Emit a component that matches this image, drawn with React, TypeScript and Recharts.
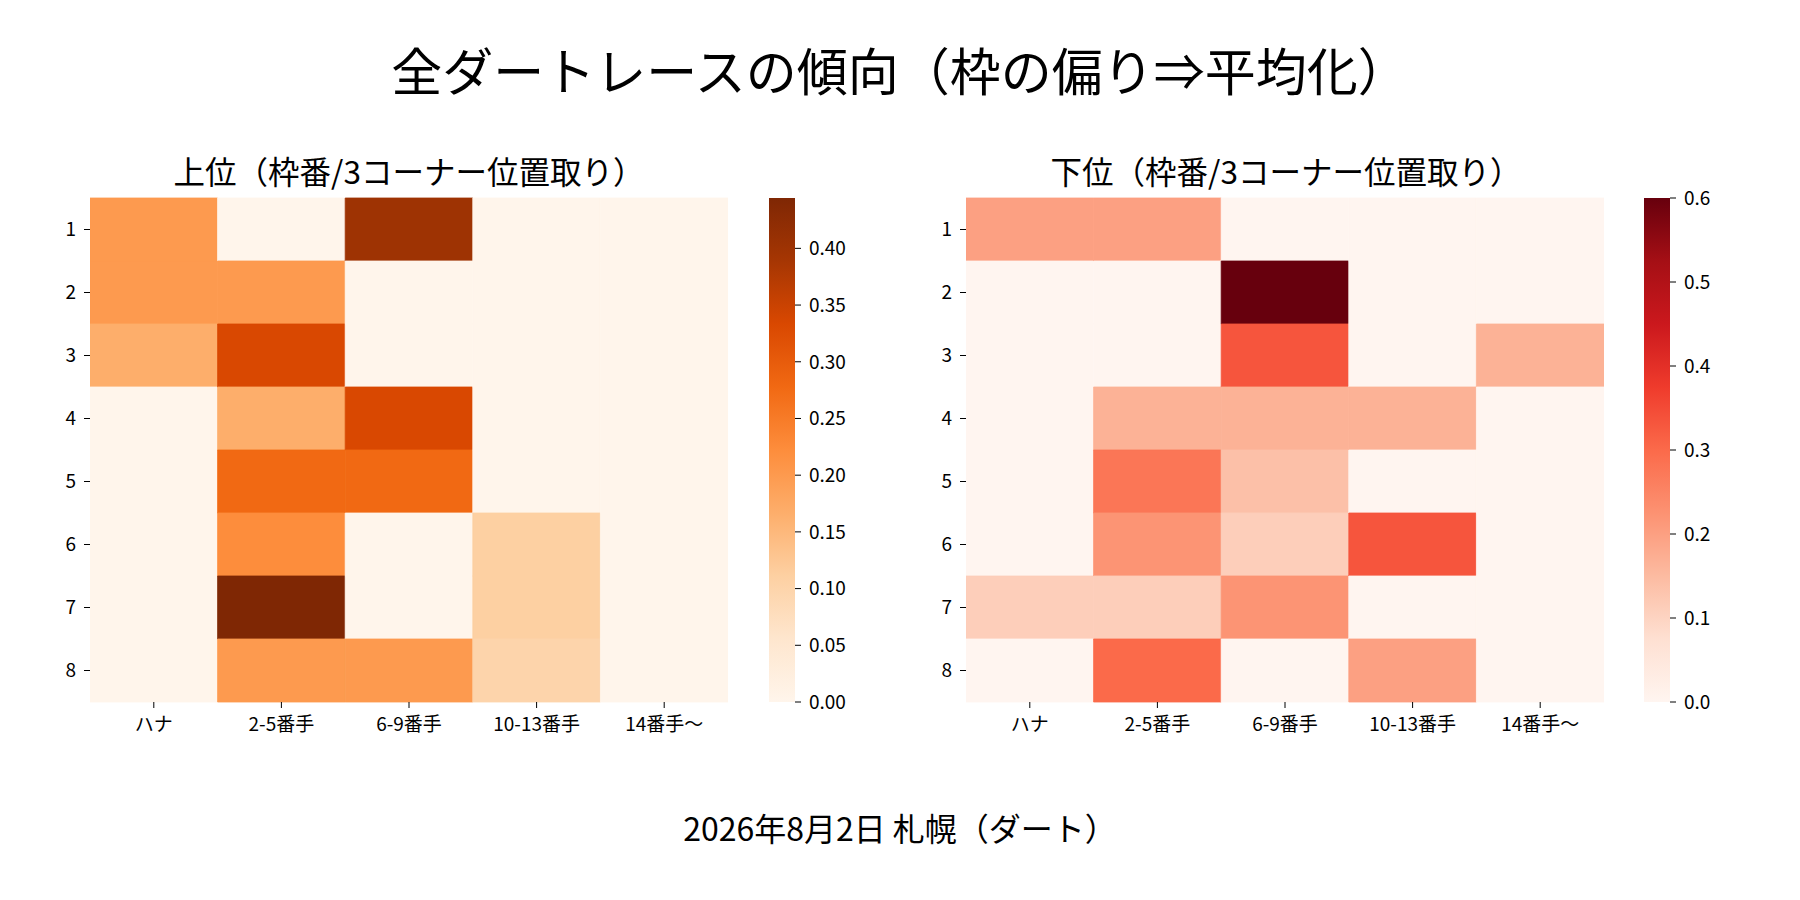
import React from 'react';
import { BarChart, Bar, XAxis, YAxis, Cell } from 'recharts';

const FONT = '"Noto Sans CJK JP", "Noto Sans", sans-serif';

// ---- data ----
const mainTitle = '全ダートレースの傾向（枠の偏り⇒平均化）';
const upperTitle = '上位（枠番/3コーナー位置取り）';
const lowerTitle = '下位（枠番/3コーナー位置取り）';
const footerText = '2026年8月2日 札幌（ダート）';

const rowLabels = ['1', '2', '3', '4', '5', '6', '7', '8'];
const colLabels = ['ハナ', '2-5番手', '6-9番手', '10-13番手', '14番手～'];

const upperValues = [
  [0.2, 0, 0.4, 0, 0],
  [0.2, 0.2, 0, 0, 0],
  [0.167, 0.333, 0, 0, 0],
  [0, 0.167, 0.333, 0, 0],
  [0, 0.278, 0.278, 0, 0],
  [0, 0.222, 0, 0.111, 0],
  [0, 0.4444, 0, 0.111, 0],
  [0, 0.2, 0.2, 0.1, 0],
];
const upperMax = 0.4444;
const upperTicks = [0, 0.05, 0.1, 0.15, 0.2, 0.25, 0.3, 0.35, 0.4];

const lowerValues = [
  [0.2, 0.2, 0, 0, 0],
  [0, 0, 0.6, 0, 0],
  [0, 0, 0.333, 0, 0.167],
  [0, 0.167, 0.167, 0.167, 0],
  [0, 0.278, 0.14, 0, 0],
  [0, 0.222, 0.111, 0.333, 0],
  [0.111, 0.111, 0.222, 0, 0],
  [0, 0.3, 0, 0.2, 0],
];
const lowerMax = 0.6;
const lowerTicks = [0, 0.1, 0.2, 0.3, 0.4, 0.5, 0.6];

const ORANGES = ['#fff5eb', '#fee6ce', '#fdd0a2', '#fdae6b', '#fd8d3c', '#f16913', '#d94801', '#a63603', '#7f2704'];
const REDS = ['#fff5f0', '#fee0d2', '#fcbba1', '#fc9272', '#fb6a4a', '#ef3b2c', '#cb181d', '#a50f15', '#67000d'];

// ---- helpers ----
function hexToRgb(h: string) {
  return [parseInt(h.slice(1, 3), 16), parseInt(h.slice(3, 5), 16), parseInt(h.slice(5, 7), 16)];
}
function colorAt(cmap: string[], t: number) {
  const tt = Math.max(0, Math.min(1, t));
  const pos = tt * (cmap.length - 1);
  const i = Math.min(cmap.length - 2, Math.floor(pos));
  const f = pos - i;
  const a = hexToRgb(cmap[i]);
  const b = hexToRgb(cmap[i + 1]);
  const c = a.map((v, k) => Math.round(v + (b[k] - v) * f));
  return `rgb(${c[0]},${c[1]},${c[2]})`;
}

const tickStyle = { fill: '#000', fontSize: 19, fontFamily: FONT };

function Heatmap({ values, cmap, vmax, left, top }: any) {
  const data = rowLabels.map((r) => {
    const o: any = { row: r };
    colLabels.forEach((_, j) => {
      o['c' + j] = 1;
    });
    return o;
  });
  const xticks = colLabels.map((_, j) => j + 0.5);
  return (
    <div style={{ position: 'absolute', left, top }}>
      <BarChart
        width={740}
        height={600}
        data={data}
        layout="vertical"
        margin={{ top: 48, right: 12, left: 30, bottom: 8 }}
        barCategoryGap={0}
        barGap={0}
      >
        <XAxis
          type="number"
          domain={[0, colLabels.length]}
          ticks={xticks}
          interval={0}
          allowDataOverflow
          tickFormatter={(v: number) => colLabels[Math.floor(v)]}
          axisLine={false}
          tickLine={{ stroke: '#000', strokeWidth: 1 }}
          tickSize={6}
          tickMargin={10}
          tick={tickStyle}
          height={40}
        />
        <YAxis
          type="category"
          dataKey="row"
          interval={0}
          axisLine={false}
          tickLine={{ stroke: '#000', strokeWidth: 1 }}
          tickSize={6}
          tickMargin={8}
          tick={tickStyle}
          width={60}
        />
        {colLabels.map((_, j) => (
          <Bar key={j} dataKey={'c' + j} stackId="s" isAnimationActive={false}>
            {values.map((rv: number[], i: number) => {
              const col = colorAt(cmap, rv[j] / vmax);
              return <Cell key={i} fill={col} stroke={col} strokeWidth={0.8} />;
            })}
          </Bar>
        ))}
      </BarChart>
    </div>
  );
}

function Colorbar({ vmax, ticks, gradId, digits, left, top }: any) {
  const data = [{ k: 'cb', v: vmax }];
  return (
    <div style={{ position: 'absolute', left, top }}>
      <BarChart
        width={110}
        height={600}
        data={data}
        margin={{ top: 48, right: 0, left: 10, bottom: 48 }}
        barCategoryGap={0}
      >
        <XAxis dataKey="k" type="category" hide />
        <YAxis
          orientation="right"
          type="number"
          domain={[0, vmax]}
          ticks={ticks}
          interval={0}
          allowDataOverflow
          tickFormatter={(v: number) => v.toFixed(digits)}
          axisLine={false}
          tickLine={{ stroke: '#000', strokeWidth: 1 }}
          tickSize={6}
          tickMargin={8}
          tick={tickStyle}
          width={74}
        />
        <Bar dataKey="v" fill={`url(#${gradId})`} isAnimationActive={false} />
      </BarChart>
    </div>
  );
}

function Gradient({ id, cmap }: any) {
  return (
    <linearGradient id={id} x1="0" y1="1" x2="0" y2="0">
      {cmap.map((c: string, i: number) => (
        <stop key={i} offset={`${(i / (cmap.length - 1)) * 100}%`} stopColor={c} />
      ))}
    </linearGradient>
  );
}

const textBase: React.CSSProperties = {
  position: 'absolute',
  fontFamily: FONT,
  color: '#000',
  whiteSpace: 'nowrap',
  textAlign: 'center',
  lineHeight: 1,
};

export default function App() {
  return (
    <div style={{ position: 'absolute', left: 0, top: 0, width: 1800, height: 900, background: '#fff', overflow: 'hidden' }}>
      <svg width={0} height={0} style={{ position: 'absolute' }}>
        <defs>
          <Gradient id="gradOranges" cmap={ORANGES} />
          <Gradient id="gradReds" cmap={REDS} />
        </defs>
      </svg>

      <div style={{ ...textBase, left: 0, width: 1800, top: 44, fontSize: 51 }}>{mainTitle}</div>

      <div style={{ ...textBase, left: 109, width: 600, top: 155, fontSize: 31.5 }}>{upperTitle}</div>
      <div style={{ ...textBase, left: 986, width: 600, top: 155, fontSize: 31.5 }}>{lowerTitle}</div>

      <Heatmap values={upperValues} cmap={ORANGES} vmax={upperMax} left={0} top={150} />
      <Colorbar vmax={upperMax} ticks={upperTicks} gradId="gradOranges" digits={2} left={759} top={150} />

      <Heatmap values={lowerValues} cmap={REDS} vmax={lowerMax} left={876} top={150} />
      <Colorbar vmax={lowerMax} ticks={lowerTicks} gradId="gradReds" digits={1} left={1634} top={150} />

      <div style={{ ...textBase, left: 0, width: 1800, top: 811, fontSize: 32 }}>{footerText}</div>
    </div>
  );
}
